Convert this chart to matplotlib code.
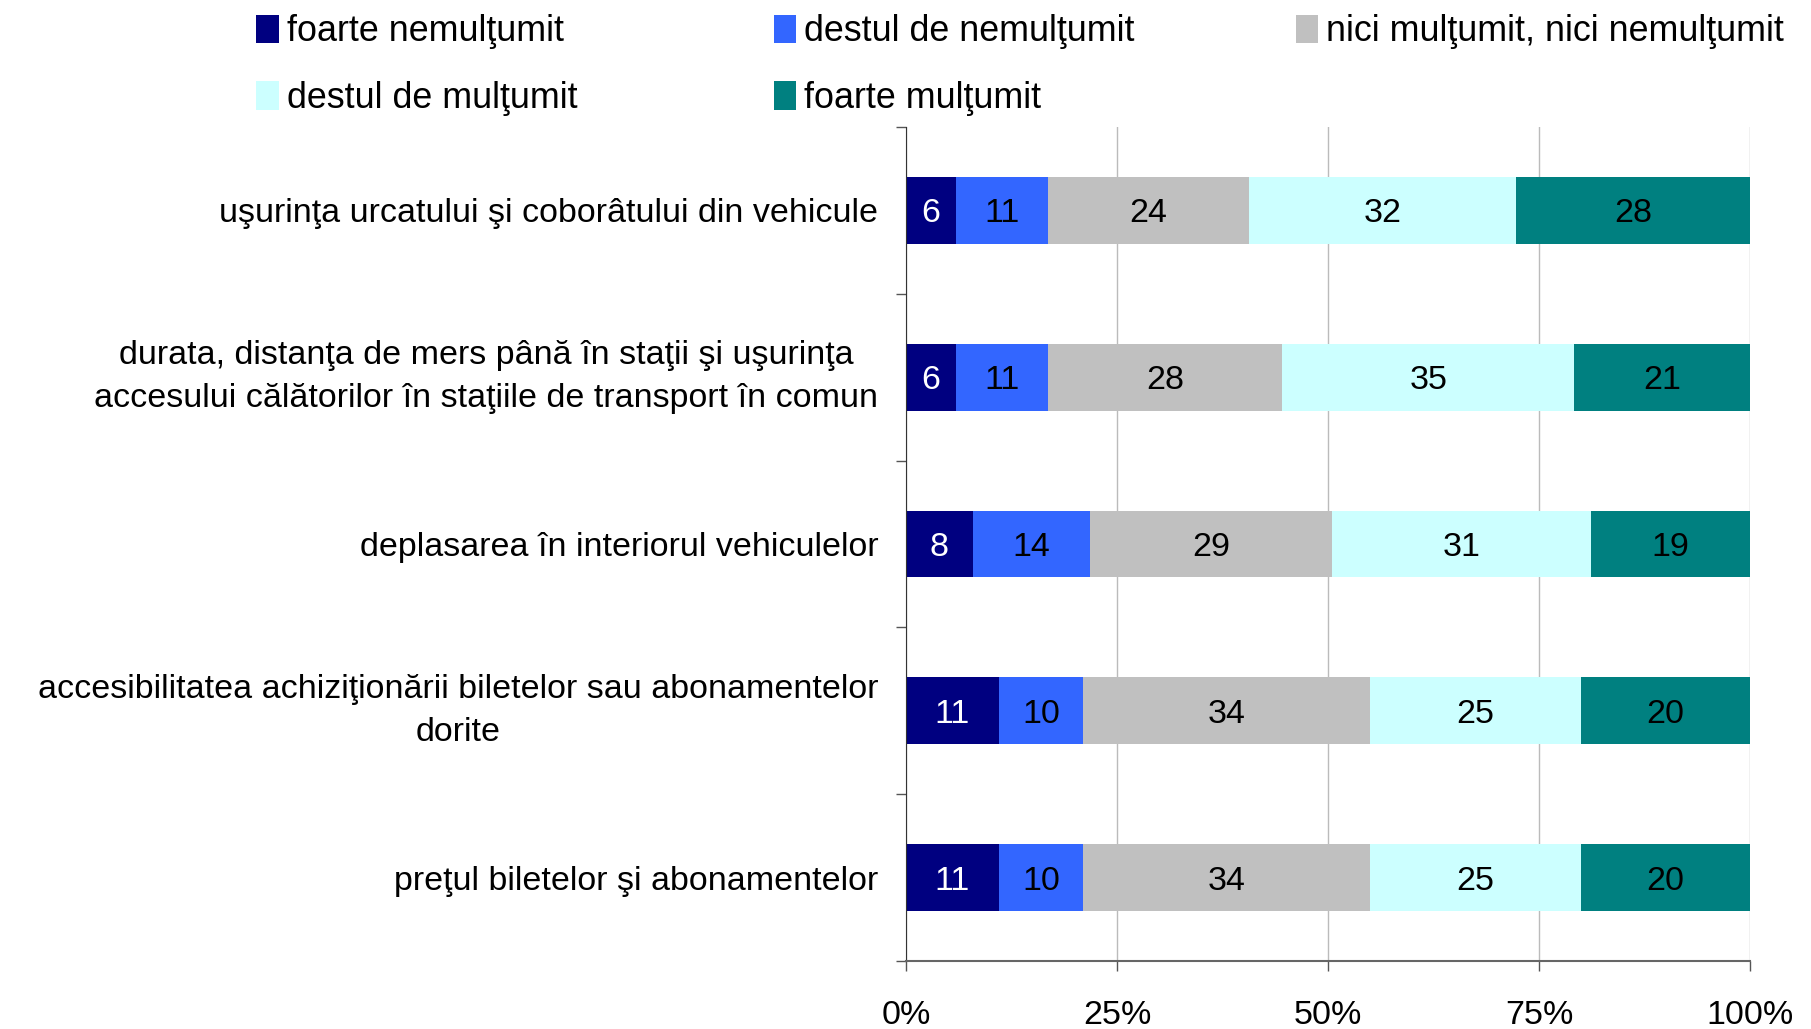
import numpy as np
import matplotlib.pyplot as plt
from matplotlib.patches import Patch

plt.rcParams['font.family'] = ['Liberation Sans', 'DejaVu Sans']

# categorii (de sus in jos)
categorii = [
    'uşurinţa urcatului şi coborâtului din vehicule',
    'durata, distanţa de mers până în staţii şi uşurinţa\naccesului călătorilor în staţiile de transport în comun',
    'deplasarea în interiorul vehiculelor',
    'accesibilitatea achiziţionării biletelor sau abonamentelor\ndorite',
    'preţul biletelor şi abonamentelor',
]
serii = ['foarte nemulţumit', 'destul de nemulţumit', 'nici mulţumit, nici nemulţumit',
         'destul de mulţumit', 'foarte mulţumit']
foarte_nemultumit = [6, 6, 8, 11, 11]
destul_nemultumit = [11, 11, 14, 10, 10]
nici = [24, 28, 29, 34, 34]
destul_multumit = [32, 35, 31, 25, 25]
foarte_multumit = [28, 21, 19, 20, 20]

culori = ['#000080', '#3366FF', '#C0C0C0', '#CCFFFF', '#008080']
culori_text = ['white', 'black', 'black', 'black', 'black']
fs = 24.5

valori = np.array([foarte_nemultumit, destul_nemultumit, nici, destul_multumit, foarte_multumit], dtype=float)
procente = valori / valori.sum(axis=0) * 100

fig = plt.figure(figsize=(18.11, 10.29), dpi=100)
ax = fig.add_axes([0.5003, 0.0661, 0.4660, 0.8105])

y = np.arange(len(categorii))
stanga = np.zeros(len(categorii))
for i in range(len(serii)):
    ax.barh(y, procente[i], left=stanga, height=0.4, color=culori[i], zorder=2)
    for j in range(len(categorii)):
        ax.text(stanga[j] + procente[i][j] / 2, y[j], str(int(valori[i][j])),
                ha='center', va='center_baseline', fontsize=fs, color=culori_text[i], zorder=3)
    stanga += procente[i]

ax.set_xlim(0, 100)
ax.set_ylim(len(categorii) - 0.5, -0.5)
ax.set_xticks([0, 25, 50, 75, 100])
ax.set_xticklabels(['0%', '25%', '50%', '75%', '100%'], fontsize=fs)
ax.xaxis.grid(True, color='#BBBBBB', linewidth=1, zorder=0)
ax.tick_params(axis='x', length=7, width=1, color='#555555', pad=21)

ax.set_yticks(y)
ax.set_yticklabels(categorii, fontsize=fs, ma='center')
for t in ax.get_yticklabels():
    t.set_linespacing(1.5)
    if '\n' in t.get_text():
        t.set_va('center')
ax.tick_params(axis='y', which='major', length=0, pad=20)
ax.set_yticks(np.arange(-0.5, len(categorii)), minor=True)
ax.tick_params(axis='y', which='minor', length=7, width=1, color='#555555')

for s in ['top', 'right']:
    ax.spines[s].set_visible(False)
ax.spines['left'].set_color('#333333')
ax.spines['bottom'].set_color('#666666')
ax.spines['bottom'].set_linewidth(1.5)

# legenda: trei coloane, completate pe randuri ca in original
coloane = [[0, 3], [1, 4], [2]]
x_coloane = [0.1416, 0.4273, 0.7156]
for idx, x0 in zip(coloane, x_coloane):
    manere = [Patch(facecolor=culori[k], edgecolor='none') for k in idx]
    fig.legend(manere, [serii[k] for k in idx], loc='upper left', bbox_to_anchor=(x0, 0.986),
               frameon=False, fontsize=25.8, handlelength=0.62, handleheight=0.86,
               handletextpad=0.22, labelspacing=0.88, borderpad=0, borderaxespad=0)

fig.savefig('out.png', dpi=100)
